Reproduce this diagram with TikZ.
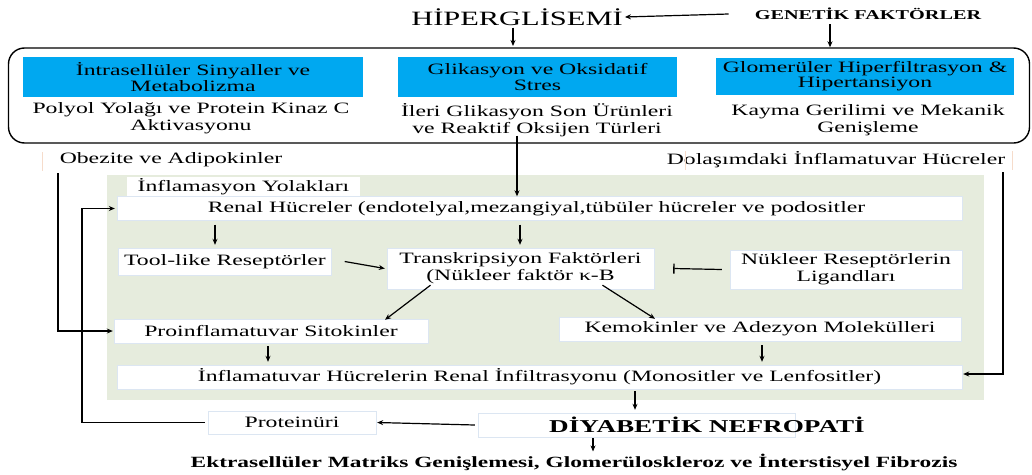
\documentclass[tikz,border=0pt]{standalone}
\usepackage{fontspec}
\setmainfont{Liberation Serif}[FakeStretch=1.5]
\usetikzlibrary{arrows.meta}
\definecolor{hblue}{HTML}{00A8F0}
\definecolor{panel}{HTML}{E6ECDD}
\definecolor{faint}{HTML}{F6DCCB}
\definecolor{bedge}{HTML}{DCE6F2}
\tikzset{
  arr/.style={line width=1.2pt,-{Stealth[length=6pt,width=5pt]}},
  inh/.style={line width=1.2pt,-{Bar[width=10pt,line width=1.4pt]}},
  plain/.style={line width=1.2pt},
  txt/.style={font=\fontsize{15.8}{16.5}\selectfont,align=center,inner sep=0pt},
  wbox/.style={fill=white,draw=bedge,line width=0.4pt,inner sep=0pt,align=center,font=\fontsize{15.8}{17}\selectfont},
  bbox/.style={fill=hblue,inner sep=0pt,align=center,font=\fontsize{15.8}{15.5}\selectfont},
}
\begin{document}
\begin{tikzpicture}[x=1pt,y=-1pt]
\useasboundingbox[fill=white] (0,0) rectangle (1032,474);
% top
\node[font=\fontsize{20.3}{22}\selectfont,fill=white,inner sep=2pt] (hip) at (517,17) {HİPERGLİSEMİ};
\node[font=\bfseries\fontsize{13.5}{14}\selectfont,inner sep=1pt] (gen) at (868,14) {GENETİK FAKTÖRLER};
% big rounded box
\node[draw,line width=1.4pt,rounded corners=16pt,minimum width=1021pt,minimum height=95pt,inner sep=0pt] (big) at (519,95.5) {};
\node[bbox,minimum width=340pt,minimum height=40pt] (b1) at (193,77) {İntrasellüler Sinyaller ve\\Metabolizma};
\node[bbox,minimum width=279pt,minimum height=40pt] (b2) at (537.5,77) {Glikasyon ve Oksidatif\\Stres};
\node[bbox,minimum width=298pt,minimum height=37pt] (b3) at (865,76) {Glomerüler Hiperfiltrasyon \&\\Hipertansiyon};
\node[txt] (t1) at (191,118) {Polyol Yolağı ve Protein Kinaz C\\Aktivasyonu};
\node[txt] (t2) at (537,120) {İleri Glikasyon Son Ürünleri\\ve Reaktif Oksijen Türleri};
\node[txt] (t3) at (868,120) {Kayma Gerilimi ve Mekanik\\Genişleme};
% side inputs
\node[txt] (obez) at (171,160) {Obezite ve Adipokinler};
\draw[faint,line width=1pt] (42,152) -- (42,171);
\node[txt] (dol) at (836,160) {Dolaşımdaki İnflamatuvar Hücreler};
\draw[faint,line width=1pt] (685,151) -- (685,170) (1012,151) -- (1012,170);
% panel
\fill[panel] (107,175) rectangle (984,400);
\node[wbox,draw=none,minimum width=233pt,minimum height=20pt] (infl) at (243.5,187) {İnflamasyon Yolakları};
\node[wbox,minimum width=845pt,minimum height=24pt] (renal) at (539.5,208.5) {\hspace*{-6pt}Renal Hücreler (endotelyal,mezangiyal,tübüler hücreler ve podositler};
\node[wbox,minimum width=213pt,minimum height=27pt] (tool) at (225,261.5) {Tool-like Reseptörler};
\node[wbox,minimum width=267pt,minimum height=41pt] (trans) at (520.5,268.5) {Transkripsiyon Faktörleri\\(Nükleer faktör \textsc{κ}-B};
\node[wbox,minimum width=232pt,minimum height=39pt] (nuk) at (846,269.5) {Nükleer Reseptörlerin\\Ligandları};
\node[wbox,minimum width=314pt,minimum height=24pt] (pro) at (271,331) {Proinflamatuvar Sitokinler};
\node[wbox,minimum width=402pt,minimum height=24pt] (kem) at (760,329) {Kemokinler ve Adezyon Molekülleri};
\node[wbox,minimum width=845pt,minimum height=24pt] (infil) at (539.5,377) {İnflamatuvar Hücrelerin Renal İnfiltrasyonu (Monositler ve Lenfositler)};
% bottom
\node[wbox,minimum width=317pt,minimum height=24pt] (diy) at (636.5,425) {};
\node[font=\bfseries\fontsize{18.1}{19}\selectfont,inner sep=0pt] (diyt) at (707,425) {DİYABETİK NEFROPATİ};
\node[wbox,minimum width=168pt,minimum height=23pt] (prot) at (292,422.5) {Proteinüri};
\node[font=\bfseries\fontsize{15.6}{16}\selectfont,inner sep=1pt] (ektra) at (574,462) {Ektrasellüler Matriks Genişlemesi, Glomerüloskleroz ve İnterstisyel Fibrozis};
% connectors
\draw[arr] ([xshift=-25pt]gen.west) -- (hip.east);
\draw[arr] (hip.south -| 513,0) -- (513,46);
\coordinate (gd) at ([xshift=-38pt,yshift=-3pt]gen.south);
\draw[arr] (gd) -- (gd |- big.north);
\draw[arr] ([yshift=8pt]big.south -| 517,0) -- (renal.north -| 517,0);
\draw[arr,shorten <=4pt,shorten >=3pt] (renal.south -| 215,0) -- (tool.north -| 215,0);
\draw[arr,shorten <=4pt,shorten >=3pt] (renal.south -| 520,0) -- (trans.north -| 520,0);
\draw[arr] ([xshift=13pt]tool.east) -- ([xshift=-2pt]trans.west);
\draw[inh] ([xshift=-8pt]nuk.west) -- ([xshift=19pt]trans.east);
\draw[arr] ([xshift=-90pt,yshift=4pt]trans.south) -- ([xshift=114pt,yshift=-1pt]pro.north);
\draw[arr] ([xshift=82pt,yshift=4pt]trans.south) -- ([xshift=-105pt,yshift=-2pt]kem.north);
\draw[arr,shorten <=3pt,shorten >=3pt] (pro.south -| 268,0) -- (infil.north -| 268,0);
\draw[arr,shorten <=4pt,shorten >=3pt] (kem.south -| 762,0) -- (infil.north -| 762,0);
\draw[arr,shorten <=2pt,shorten >=3pt] (infil.south -| 635,0) -- (diy.north -| 635,0);
\draw[arr] ([xshift=-3pt]diy.west) -- ([xshift=1pt]prot.east);
\draw[arr,shorten <=1pt,shorten >=1pt] (diy.south -| 593,0) -- (ektra.north -| 593,0);
\draw[arr] ([xshift=-3pt]prot.west) -- (82,422.5) |- ([xshift=-2pt]renal.west);
\coordinate (ob) at (58,173);
\draw[arr] (ob) |- ([xshift=-1pt]pro.west);
\coordinate (dl) at (1003,172);
\draw[arr] (dl) |- ([xshift=1pt,yshift=3pt]infil.east);
\end{tikzpicture}
\end{document}
